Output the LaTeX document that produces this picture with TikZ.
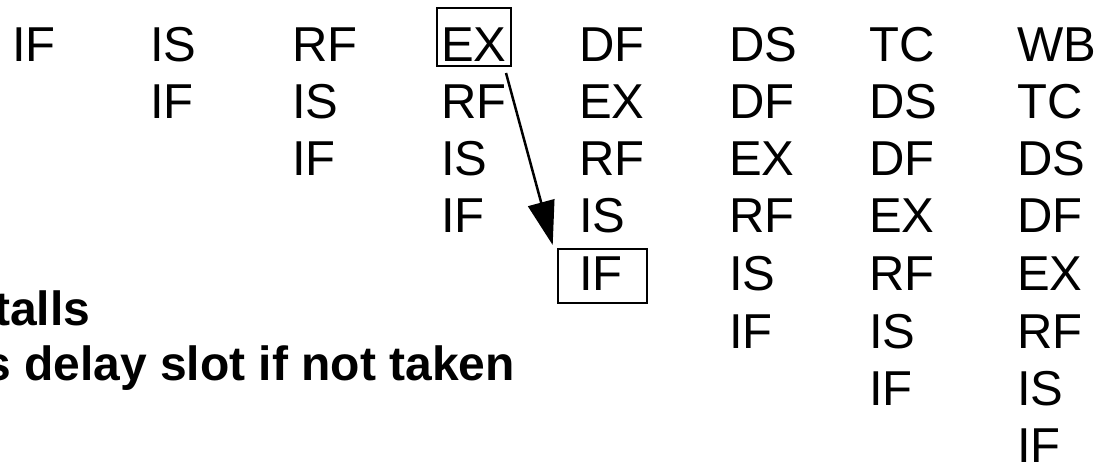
\documentclass[tikz,border=0pt]{standalone}
\usepackage{fontspec}
\setmainfont{Liberation Sans}
\usetikzlibrary{arrows.meta}
\tikzset{
  stage/.style={anchor=base west, inner sep=0pt, font=\fontsize{49}{49}\selectfont},
  note/.style={anchor=base west, inner sep=0pt, font=\fontsize{48}{48}\selectfont\bfseries},
  hilite/.style={draw, line width=2pt, inner sep=0pt},
  jump/.style={line width=2.5pt, -{Triangle[length=44pt,width=27pt]}}
}
\begin{document}
\begin{tikzpicture}[x=1pt,y=-1pt]
\useasboundingbox (0,0) rectangle (1102,464);
\clip (0,0) rectangle (1102,464);
\foreach \r in {1,...,8} {
  \foreach \s [count=\k] in {IF,IS,RF,EX,DF,DS,TC,WB} {
    \pgfmathtruncatemacro\c{\r+\k-1}
    \ifnum\c<9
      \pgfmathsetmacro\xx{{12,150,292,441,579,729,869,1017}[\c-1]}
      \pgfmathsetmacro\yy{{61,118,175.5,232.5,290.5,348,405,462}[\r-1]}
      \node[stage] (n\r\c) at (\xx,\yy) {\s};
    \fi
  }
}
\node[hilite, minimum width=74pt, minimum height=58pt] (exbox) at (474,37) {};
\node[hilite, minimum width=89pt, minimum height=53.7pt] (ifbox) at (602.2,275.9) {};
\draw[jump] ([shift={(-6,6)}]exbox.south east) -- ([shift={(-4,-3)}]ifbox.north west);
\node[note] (l1) at (-6,325) {talls};
\node[note] (l2) at (-16,380) {s delay slot if not taken};
\end{tikzpicture}
\end{document}
